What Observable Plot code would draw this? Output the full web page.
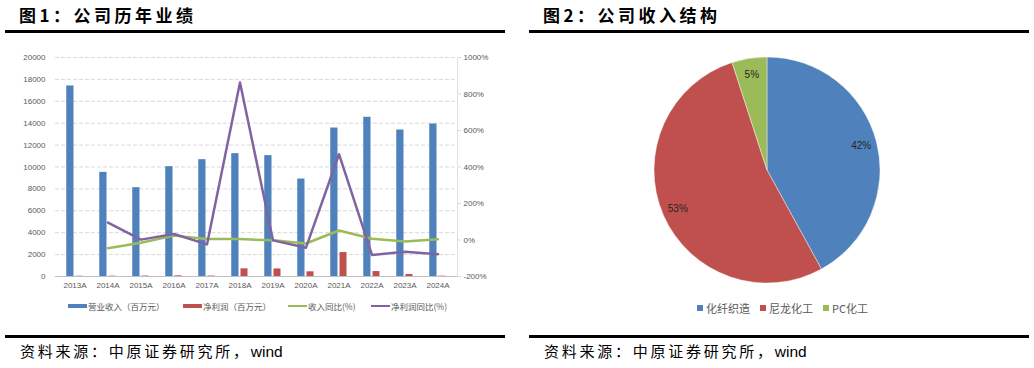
<!DOCTYPE html>
<html><head><meta charset="utf-8">
<script src="https://cdn.jsdelivr.net/npm/d3@7"></script>
<script src="https://cdn.jsdelivr.net/npm/@observablehq/plot@0.6"></script>
<style>
html,body{margin:0;padding:0;background:#fff;width:1034px;height:368px;overflow:hidden;position:relative;font-family:"Noto Sans CJK SC","Liberation Sans",sans-serif;}
.abs{position:absolute;}
.title{font-size:17px;font-weight:bold;color:#000;line-height:17px;white-space:nowrap;letter-spacing:3.5px;}
.rule{height:3px;background:#000;}
.src{font-size:15px;color:#000;line-height:15px;white-space:nowrap;letter-spacing:2.75px;}
.src span{font-family:"Liberation Sans",sans-serif;font-size:15.5px;letter-spacing:0;}
.leg{font-size:8.5px;color:#595959;line-height:10px;white-space:nowrap;display:flex;align-items:center;}
.leg2{font-size:11px;color:#595959;line-height:12px;white-space:nowrap;display:flex;align-items:center;}
.sw{display:inline-block;margin-right:1px;}
</style></head><body>
<div class="abs title" style="left:19px;top:6px;">图1：公司历年业绩</div>
<div class="abs rule" style="left:5px;top:29.5px;width:500px;"></div>
<div class="abs title" style="left:543px;top:6px;">图2：公司收入结构</div>
<div class="abs rule" style="left:529px;top:29.5px;width:500px;"></div>
<div id="chartA" class="abs" style="left:0;top:40px;"></div>
<div id="chartB" class="abs" style="left:0;top:40px;"></div>
<div id="legA"></div>
<div id="pie" class="abs" style="left:640px;top:50px;"></div>
<div id="legB"></div>
<div class="abs rule" style="left:5px;top:334.5px;width:500px;"></div>
<div class="abs rule" style="left:529px;top:334.5px;width:500px;"></div>
<div class="abs src" style="left:20px;top:343px;">资料来源：中原证券研究所，<span>wind</span></div>
<div class="abs src" style="left:544px;top:343px;">资料来源：中原证券研究所，<span>wind</span></div>
<script>
// ---- data ----
const years = ["2013A","2014A","2015A","2016A","2017A","2018A","2019A","2020A","2021A","2022A","2023A","2024A"];
const revenue = [17400, 9510, 8110, 10030, 10670, 11220, 11040, 8900, 13560, 14540, 13380, 13930];
const netProfit = [25, 30, 40, 60, 40, 700, 690, 430, 2190, 450, 180, 30];
const revenueYoY = [null, -45, -15, 24, 6, 5, -2, -19, 52, 7, -8, 4];
const profitYoY = [null, 95, 2, 33, -24, 863, -2, -42, 470, -82, -64, -78];
const leftTicks = [0, 2000, 4000, 6000, 8000, 10000, 12000, 14000, 16000, 18000, 20000];
const rightTicks = [-200, 0, 200, 400, 600, 800, 1000];
const seriesNames = ["营业收入（百万元）", "净利润（百万元）", "收入同比(%)", "净利润同比(%)"];
const segments = ["化纤织造", "尼龙化工", "PC化工"];
const shares = [42, 53, 5];

// ---- styles ----
const C = {rev:"#4F81BD", prof:"#C0504D", revY:"#9BBB59", profY:"#8064A2"};
const segColors = ["#4F81BD", "#C0504D", "#9BBB59"];
const font = '"Liberation Sans","Noto Sans CJK SC",sans-serif';

const table = years.map((year, i) => ({year, revenue: revenue[i], profit: netProfit[i], revYoY: revenueYoY[i], profYoY: profitYoY[i]}));

const dims = {width:510, height:260, marginLeft:55, marginRight:53, marginTop:17, marginBottom:24};
const style = {fontSize:"8px", fontFamily:font, color:"#595959", background:"transparent", overflow:"visible"};

const chartA = Plot.plot({
  ...dims, style,
  x:{type:"band", domain:years, padding:0, label:null},
  y:{domain:[0,20000], label:null},
  marks:[
    Plot.ruleY(leftTicks.filter(d => d > 0), {stroke:"#D9D9D9", strokeDasharray:"4,2"}),
    Plot.barY(table, {x:"year", y:"revenue", fill:C.rev, insetLeft:8.25, insetRight:17.5}),
    Plot.barY(table, {x:"year", y:"profit", fill:C.prof, insetLeft:17.5, insetRight:8.5}),
    Plot.ruleY([0], {stroke:"#BFBFBF"}),
    Plot.axisX({tickSize:0, tickPadding:6, label:null}),
    Plot.axisY(leftTicks, {tickSize:0, tickPadding:10, label:null, tickFormat:d => String(d)})
  ]
});
document.getElementById("chartA").append(chartA);

const chartB = Plot.plot({
  ...dims, style,
  x:{type:"band", domain:years, padding:0, axis:null},
  y:{domain:[-200,1000], label:null},
  marks:[
    Plot.lineY(table, {x:"year", y:"revYoY", stroke:C.revY, strokeWidth:2.5}),
    Plot.lineY(table, {x:"year", y:"profYoY", stroke:C.profY, strokeWidth:2.5}),
    Plot.axisY(rightTicks, {anchor:"right", tickSize:3, tickPadding:3, stroke:"#D9D9D9", label:null, tickFormat:d => d + "%"}),
    Plot.frame({anchor:"right", stroke:"#E3E0D6"})
  ]
});
document.getElementById("chartB").append(chartB);

// legend for chart 1
const legA = document.getElementById("legA");
const legPos = [68, 183, 288, 371];
const legKinds = [["bar",C.rev],["bar",C.prof],["line",C.revY],["line",C.profY]];
seriesNames.forEach((name, i) => {
  const d = document.createElement("div");
  d.className = "abs leg";
  d.style.left = legPos[i] + "px"; d.style.top = "301px";
  const sw = document.createElement("span");
  sw.className = "sw";
  sw.style.width = "19px";
  sw.style.height = legKinds[i][0] === "bar" ? "4.5px" : "2.5px";
  sw.style.background = legKinds[i][1];
  d.append(sw, document.createTextNode(name));
  legA.append(d);
});

// pie chart
const pieW = 254, pieH = 240, R = 113;
const pie = Plot.plot({
  width:pieW, height:pieH, margin:0,
  style:{background:"transparent", overflow:"visible"},
  marks:[
    (index, scales, values, dimensions) => {
      const g = d3.create("svg:g").attr("transform", `translate(${dimensions.width/2},${dimensions.height/2})`);
      const arcs = d3.pie().sort(null).value(d => d)(shares);
      const arc = d3.arc().innerRadius(0).outerRadius(R);
      const lab = d3.arc().innerRadius(R*0.86).outerRadius(R*0.86);
      g.selectAll("path").data(arcs).join("path")
        .attr("d", arc).attr("fill", (d, i) => segColors[i])
        .attr("stroke", "#ffffff").attr("stroke-width", 0.6).attr("stroke-opacity", 0.7);
      g.selectAll("text").data(arcs).join("text")
        .attr("transform", d => `translate(${lab.centroid(d)})`)
        .attr("text-anchor", "middle").attr("dy", "0.35em")
        .attr("font-family", font).attr("font-size", "10px").attr("fill", "#262626")
        .text(d => d.data + "%");
      return g.node();
    }
  ]
});
document.getElementById("pie").append(pie);

// legend for pie
const legB = document.getElementById("legB");
const legBPos = [697, 760, 823];
segments.forEach((name, i) => {
  const d = document.createElement("div");
  d.className = "abs leg2";
  d.style.left = legBPos[i] + "px"; d.style.top = "302px";
  const sw = document.createElement("span");
  sw.className = "sw";
  sw.style.width = "6px"; sw.style.height = "6px"; sw.style.marginRight = "3px";
  sw.style.background = segColors[i];
  d.append(sw, document.createTextNode(name));
  legB.append(d);
});
</script>
</body></html>
